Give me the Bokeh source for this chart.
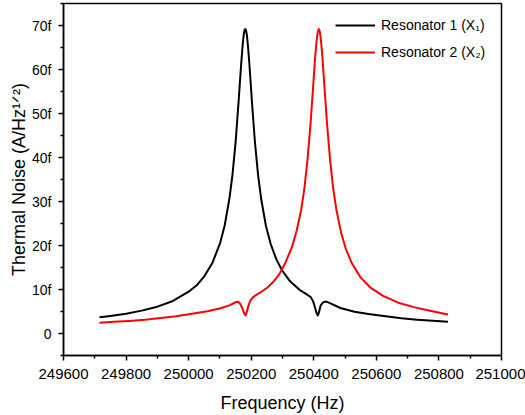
from bokeh.plotting import figure
from bokeh.models import FixedTicker, Legend, LegendItem, Range1d, BasicTickFormatter
from bokeh.embed import file_html
from bokeh.resources import INLINE

# ---- data ----
freq_black = [249715, 249750, 249800, 249850, 249900, 249950, 250000, 250025, 250050,
              250075, 250100, 250115, 250130, 250140, 250150, 250160, 250167, 250172,
              250176, 250179, 250181, 250183, 250186, 250190, 250195, 250202, 250212,
              250222, 250232, 250247, 250262, 250280, 250299, 250325, 250357, 250375,
              250390, 250398, 250404, 250409, 250413, 250417, 250422, 250430, 250440,
              250455, 250485, 250530, 250580, 250630, 250680, 250730, 250780, 250829]
noise_black = [3.7, 4.0, 4.5, 5.2, 6.1, 7.4, 9.5, 10.9, 13.0,
               15.9, 20.4, 24.5, 30.5, 36.0, 43.4, 53.0, 60.4, 65.1,
               67.9, 69.0, 69.2, 69.0, 67.9, 65.1, 60.4, 53.0, 43.4,
               36.0, 30.5, 24.5, 20.4, 16.9, 14.3, 11.8, 9.8, 9.0,
               8.3, 7.3, 5.9, 4.6, 4.1, 4.9, 6.4, 7.1, 7.25,
               6.8, 5.8, 4.95, 4.4, 3.9, 3.45, 3.15, 2.9, 2.65]

freq_red = [249715, 249760, 249810, 249860, 249910, 249960, 250016, 250060, 250102,
            250130, 250150, 250158, 250164, 250170, 250175, 250179, 250182, 250186,
            250190, 250196, 250205, 250219, 250235, 250251, 250270, 250290, 250310,
            250330, 250345, 250360, 250370, 250380, 250390, 250398, 250404, 250409,
            250413, 250416, 250419, 250423, 250428, 250434, 250442, 250452, 250462,
            250472, 250487, 250502, 250522, 250550, 250580, 250620, 250670, 250720,
            250775, 250829]
noise_red = [2.45, 2.65, 2.85, 3.1, 3.5, 3.9, 4.55, 5.05, 5.75,
             6.4, 7.1, 7.2, 6.8, 6.0, 5.1, 4.4, 4.1, 4.9,
             6.0, 7.3, 8.2, 8.9, 9.6, 10.4, 11.7, 13.5, 16.2,
             19.6, 23.3, 28.2, 33.0, 39.5, 48.0, 56.2, 62.4, 66.6,
             68.7, 69.2, 68.7, 66.6, 62.4, 56.2, 48.0, 39.5, 33.0,
             28.2, 23.0, 19.3, 15.9, 12.7, 10.5, 8.6, 7.0, 6.0,
             5.1, 4.3]

series_names = ["Resonator 1 (X\u2081)", "Resonator 2 (X\u2082)"]

x_ticks = [249600, 249800, 250000, 250200, 250400, 250600, 250800, 251000]
x_minor = [249700, 249900, 250100, 250300, 250500, 250700, 250900]
y_ticks = [0, 10, 20, 30, 40, 50, 60, 70]
y_tick_labels = ["0", "10f", "20f", "30f", "40f", "50f", "60f", "70f"]
y_minor = [-5, 5, 15, 25, 35, 45, 55, 65, 75]

x_label = "Frequency (Hz)"
y_label = "Thermal Noise (A/Hz\u00b9\u141f\u00b2)"

FONT = "Liberation Sans"

p = figure(width=525, height=415, output_backend="svg", toolbar_location=None,
           x_range=Range1d(249600, 251000), y_range=Range1d(-5, 75),
           min_border_left=63, min_border_right=24, min_border_top=3,
           min_border_bottom=60)

p.xgrid.visible = False
p.ygrid.visible = False
p.outline_line_color = "black"
p.outline_line_width = 1.5
p.outline_line_alpha = 1.0

p.xaxis.ticker = FixedTicker(ticks=x_ticks, minor_ticks=x_minor)
p.yaxis.ticker = FixedTicker(ticks=y_ticks, minor_ticks=y_minor)
p.xaxis.formatter = BasicTickFormatter(use_scientific=False)
p.yaxis.major_label_overrides = {t: l for t, l in zip(y_ticks, y_tick_labels)}

for ax in (p.xaxis[0], p.yaxis[0]):
    ax.axis_line_color = "black"
    ax.axis_line_width = 1.5
    ax.major_tick_line_color = "black"
    ax.major_tick_line_width = 1.5
    ax.minor_tick_line_color = "black"
    ax.minor_tick_line_width = 1.5
    ax.major_tick_in = 0
    ax.major_tick_out = 5
    ax.minor_tick_in = 0
    ax.minor_tick_out = 3
    ax.major_label_text_color = "black"
    ax.major_label_text_font = FONT
    ax.axis_label_text_font = FONT
    ax.axis_label_text_font_style = "normal"
    ax.axis_label_text_font_size = "18px"
    ax.axis_label_text_color = "black"

p.xaxis.major_label_text_font_size = "15px"
p.yaxis.major_label_text_font_size = "14px"
p.xaxis.major_label_standoff = 8
p.yaxis.major_label_standoff = 7
p.xaxis.axis_label = x_label
p.xaxis.axis_label_standoff = 11
p.yaxis.axis_label = y_label
p.yaxis.axis_label_standoff = 0

r1 = p.line(freq_black, noise_black, line_color="black", line_width=2, line_join="round")
r2 = p.line(freq_red, noise_red, line_color="#ff0000", line_width=2, line_join="round")

legend = Legend(items=[LegendItem(label=series_names[0], renderers=[r1]),
                       LegendItem(label=series_names[1], renderers=[r2])],
                location=(267, 288), margin=0, padding=5, spacing=7,
                glyph_width=40, glyph_height=20, label_height=20, label_standoff=6,
                label_text_font=FONT, label_text_font_size="14px",
                label_text_color="black", border_line_alpha=0,
                background_fill_alpha=0)
p.add_layout(legend)

open("out.html", "w").write(file_html(p, INLINE))
